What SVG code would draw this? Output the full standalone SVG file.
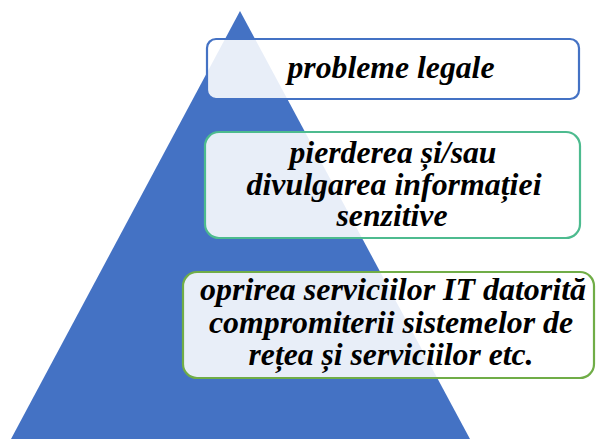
<svg xmlns="http://www.w3.org/2000/svg" width="597" height="439" viewBox="0 0 597 439">
<style>
.box{fill:#ffffff;fill-opacity:0.88;stroke-width:2.2}
.t{font-family:"Liberation Serif","Times New Roman",serif;font-weight:bold;font-style:italic;font-size:31px;fill:#000;text-anchor:middle}
</style>
<g id="pyramid"><polygon points="240,11 470,439 11,439" fill="#4472C4"/></g>
<g id="connectors"></g>
<g id="node1">
<rect class="box" x="207" y="39" width="372" height="60" rx="9" stroke="#4472C4"/>
<text class="t" x="391" y="78" textLength="207" lengthAdjust="spacingAndGlyphs">probleme legale</text>
</g>
<g id="node2">
<rect class="box" x="205" y="132" width="375" height="106" rx="14" stroke="#4DBB8F"/>
<text class="t" x="393" y="163" textLength="207" lengthAdjust="spacingAndGlyphs">pierderea și/sau</text>
<text class="t" x="394" y="195" textLength="295" lengthAdjust="spacingAndGlyphs">divulgarea informației</text>
<text class="t" x="392" y="226" textLength="111" lengthAdjust="spacingAndGlyphs">senzitive</text>
</g>
<g id="node3">
<rect class="box" x="183" y="272" width="411" height="106" rx="14" stroke="#70AD47"/>
<text class="t" x="393" y="300" textLength="386" lengthAdjust="spacingAndGlyphs">oprirea serviciilor IT datorită</text>
<text class="t" x="391" y="333" textLength="364" lengthAdjust="spacingAndGlyphs">compromiterii sistemelor de</text>
<text class="t" x="391" y="365" textLength="285" lengthAdjust="spacingAndGlyphs">rețea și serviciilor etc.</text>
</g>
</svg>
